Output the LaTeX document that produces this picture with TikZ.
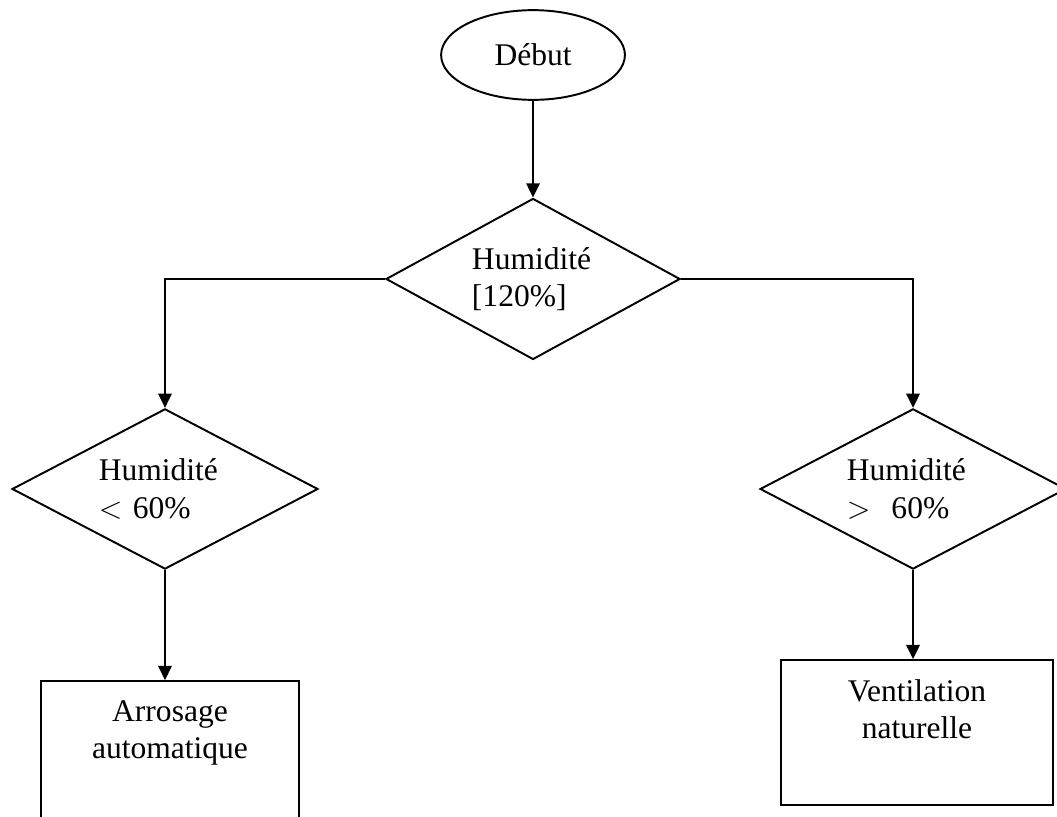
\documentclass[tikz,border=0pt]{standalone}
\usepackage{fontspec}
\setmainfont{Liberation Serif}
\usetikzlibrary{shapes.geometric,arrows.meta,positioning}

\begin{document}
\begin{tikzpicture}[
        line width=0.75pt,
        every node/.append style={black,font=\fontsize{12.2}{14.5}\selectfont},
        debut/.style={draw,ellipse,minimum width=2.5cm,minimum height=1.22cm,inner sep=0pt},
        test/.style={draw,diamond,aspect=1.9,minimum width=4.16cm,minimum height=2.18cm,inner sep=0pt,text width=1.8cm,align=left},
        action/.style={draw,rectangle,minimum height=1.97cm,inner sep=0pt},
        boxtext/.style={inner sep=0pt,align=center},
        fleche/.style={-{Triangle[width=5.2pt,length=5.5pt]}}
    ]
    \useasboundingbox (0,0) rectangle (14.375,-11.098);
    \node [debut] (start) at (7.249,-0.748) {Début};
    \node [test,minimum width=4cm,minimum height=2.19cm,text width=1.66cm] (hum) at (7.249,-3.794) {Humidité\\{[}120\%]};
    \node [test] (bas) at (2.244,-6.650) {Humidité\\$<$ 60\%};
    \node [test] (haut) at (12.417,-6.650) {Humidité\\$>$\ \ 60\%};
    \node [action,minimum width=3.509cm] (arros) at (2.312,-10.248) {};
    \node [action,minimum width=3.699cm] (vent) at (12.471,-9.962) {};
    \node [boxtext,below=0.26cm of arros.north] (arrostxt) {Arrosage\\automatique};
    \node [boxtext,below=0.26cm of vent.north] (venttxt) {Ventilation\\naturelle};

    \draw [fleche] (start.south) -- (hum.north);
    \draw [fleche] (hum.west) -| (bas.north);
    \draw [fleche] (hum.east) -| (haut.north);
    \draw [fleche] (bas.south) -- (bas.south |- arros.north);
    \draw [fleche] (haut.south) -- (haut.south |- vent.north);
\end{tikzpicture}
\end{document}
